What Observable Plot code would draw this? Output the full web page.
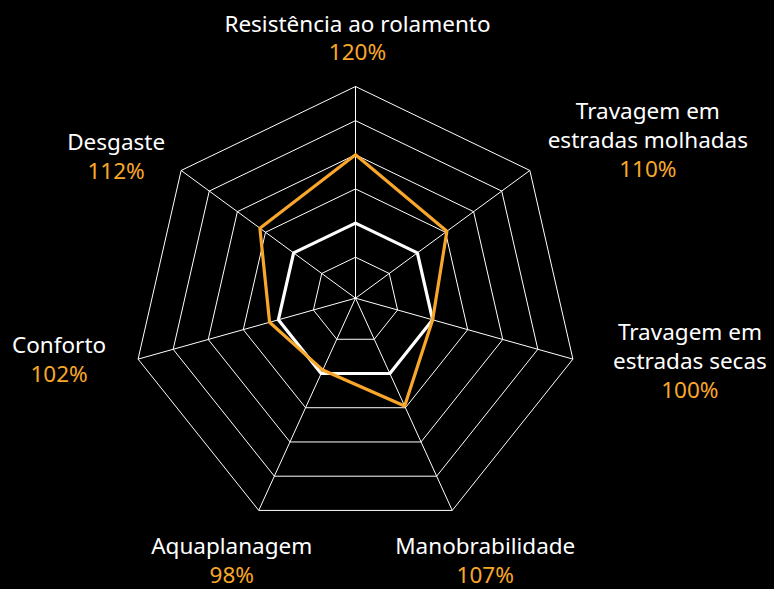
<!DOCTYPE html>
<html>
<head>
<meta charset="utf-8">
<script src="https://cdn.jsdelivr.net/npm/d3@7"></script>
<script src="https://cdn.jsdelivr.net/npm/@observablehq/plot@0.6"></script>
<style>
  html, body { margin: 0; padding: 0; background: #000; }
  #chart svg { display: block; }
</style>
</head>
<body>
<div id="chart"></div>
<script>
// ---- data ----
const categories = [
  "Resistência ao rolamento",
  "Travagem em\nestradas molhadas",
  "Travagem em\nestradas secas",
  "Manobrabilidade",
  "Aquaplanagem",
  "Conforto",
  "Desgaste"
];
const scoreLabels = ["120%", "110%", "100%", "107%", "98%", "102%", "112%"];
const scores = [120, 110.5, 100, 109.5, 99, 102.5, 112];
const baselineScores = [100, 100, 100, 100, 100, 100, 100];
const ringValues = [90, 100, 110, 120, 130, 140];
const scaleMin = 78;
const scaleMax = 140;

// ---- layout (not data) ----
const R = 223;          // outer radius of the grid, in data units
const hub = 11.3;       // spokes meet slightly above the polygon centre
const labelOffset = [[2, -55], [118, -22], [117, 10], [33, 44], [-27, 44], [-79, -6], [-65, -20]];
const orange = "#f8a72a";
const font = "Noto Sans";
const fs = 22.5;
const n = categories.length;

function pos(k, v) {
  const a = 2 * Math.PI * (k % n) / n;
  const t = (v - scaleMin) / (scaleMax - scaleMin);
  const vx = R * Math.sin(a), vy = R * Math.cos(a);
  return {x: t * vx, y: hub + t * (vy - hub)};
}

const rings = ringValues.flatMap(v => d3.range(n + 1).map(k => ({ring: v, ...pos(k, v)})));
const spokes = categories.map((c, k) => {
  const p = pos(k, scaleMax);
  return {x1: 0, y1: hub, x2: p.x, y2: p.y};
});
const closed = arr => d3.range(n + 1).map(k => ({...pos(k, arr[k % n])}));
const basePoly = closed(baselineScores);
const scorePoly = closed(scores);
const labels = categories.map((c, k) => {
  const p = pos(k, scaleMax);
  return {name: c, pct: scoreLabels[k], x: p.x + labelOffset[k][0], y: p.y - labelOffset[k][1]};
});

const chart = Plot.plot({
  width: 774,
  height: 589,
  margin: 0,
  x: {domain: [-355, 419], axis: null},
  y: {domain: [-280, 309], axis: null},
  style: {background: "#000", overflow: "visible"},
  marks: [
    Plot.line(rings, {x: "x", y: "y", z: "ring", stroke: "#fff", strokeWidth: 1, strokeLinejoin: "miter"}),
    Plot.link(spokes, {x1: "x1", y1: "y1", x2: "x2", y2: "y2", stroke: "#fff", strokeWidth: 1}),
    Plot.line(basePoly, {x: "x", y: "y", stroke: "#fff", strokeWidth: 3.2, strokeLinejoin: "miter"}),
    Plot.line(scorePoly, {x: "x", y: "y", stroke: orange, strokeWidth: 3.2, strokeLinejoin: "miter"}),
    Plot.text(labels, {x: "x", y: "y", text: "name", fill: "#fff", fontSize: fs, fontFamily: font,
      textAnchor: "middle", lineAnchor: "bottom", lineHeight: 29 / fs}),
    Plot.text(labels, {x: "x", y: "y", text: "pct", fill: orange, fontSize: fs, fontFamily: font,
      textAnchor: "middle", lineAnchor: "bottom", dy: 28.5})
  ]
});
document.getElementById("chart").appendChild(chart);
</script>
</body>
</html>
